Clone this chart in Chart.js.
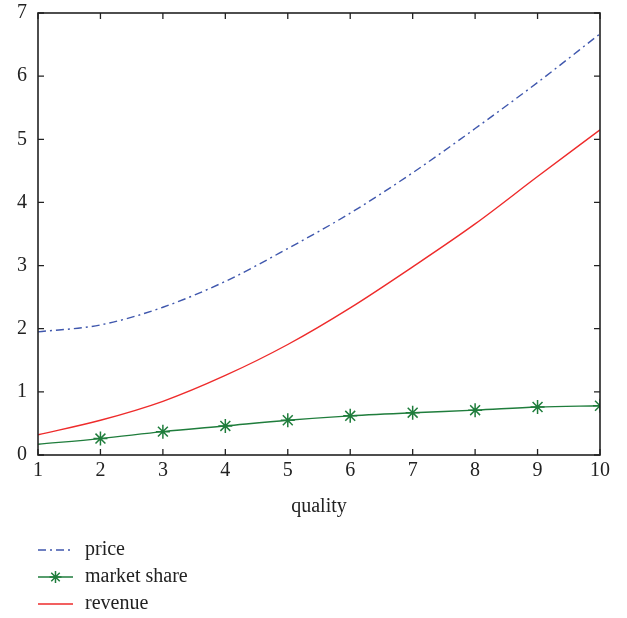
<!DOCTYPE html>
<html>
<head>
<meta charset="utf-8">
<script src="https://cdn.jsdelivr.net/npm/chart.js@4/dist/chart.umd.min.js"></script>
<style>
  html, body { margin: 0; padding: 0; background: #fff; }
  #wrap { width: 627px; height: 618px; }
</style>
</head>
<body>
<div id="wrap"><canvas id="qualityChart" width="627" height="618"></canvas></div>
<script>
// quality levels and the three curves
const quality = [1, 2, 3, 4, 5, 6, 7, 8, 9, 10];
const price = [1.95, 2.06, 2.34, 2.75, 3.27, 3.83, 4.47, 5.17, 5.90, 6.67];
const marketShare = [0.17, 0.26, 0.37, 0.46, 0.55, 0.62, 0.67, 0.71, 0.76, 0.78];
const revenue = [0.32, 0.55, 0.85, 1.26, 1.75, 2.33, 2.98, 3.66, 4.41, 5.15];
const yTicks = [0, 1, 2, 3, 4, 5, 6, 7];

const serif = '"Liberation Serif", "DejaVu Serif", serif';
const axisColor = '#222';
const fontSize = 20;

// frame around the plot with ticks pointing inward on all four sides
const framePlugin = {
    id: 'frame',
    afterDraw(chart) {
        const ctx = chart.ctx;
        const a = chart.chartArea;
        const xs = chart.scales.x;
        const ys = chart.scales.y;
        const len = 6;
        ctx.save();
        ctx.strokeStyle = axisColor;
        ctx.lineWidth = 1.6;
        ctx.strokeRect(a.left, a.top, a.right - a.left, a.bottom - a.top);
        ctx.lineWidth = 1.3;
        ctx.beginPath();
        quality.forEach(q => {
            const px = xs.getPixelForValue(q);
            ctx.moveTo(px, a.bottom); ctx.lineTo(px, a.bottom - len);
            ctx.moveTo(px, a.top); ctx.lineTo(px, a.top + len);
        });
        yTicks.forEach(v => {
            const py = ys.getPixelForValue(v);
            ctx.moveTo(a.left, py); ctx.lineTo(a.left + len, py);
            ctx.moveTo(a.right, py); ctx.lineTo(a.right - len, py);
        });
        ctx.stroke();
        ctx.restore();
    }
};

// vertical legend under the axis title
const legendPlugin = {
    id: 'stackLegend',
    afterDraw(chart) {
        const ctx = chart.ctx;
        const x0 = 38, x1 = 73, tx = 85;
        const rows = [550, 577, 604];
        ctx.save();
        chart.data.datasets.forEach((ds, i) => {
            const y = rows[i];
            ctx.strokeStyle = ds.borderColor;
            ctx.lineWidth = ds.borderWidth;
            ctx.setLineDash(ds.borderDash || []);
            ctx.beginPath();
            ctx.moveTo(x0, y); ctx.lineTo(x1, y);
            ctx.stroke();
            ctx.setLineDash([]);
            if (ds.pointStyle === 'star') {
                const cx = (x0 + x1) / 2, r = 6;
                ctx.lineWidth = 1.5;
                ctx.beginPath();
                for (let k = 0; k < 4; k++) {
                    const ang = k * Math.PI / 4;
                    ctx.moveTo(cx - r * Math.sin(ang), y - r * Math.cos(ang));
                    ctx.lineTo(cx + r * Math.sin(ang), y + r * Math.cos(ang));
                }
                ctx.stroke();
            }
            ctx.fillStyle = axisColor;
            ctx.font = fontSize + 'px ' + serif;
            ctx.textBaseline = 'middle';
            ctx.fillText(ds.label, tx, y);
        });
        ctx.restore();
    }
};

const ctx = document.getElementById('qualityChart').getContext('2d');
new Chart(ctx, {
    type: 'line',
    data: {
        labels: quality,
        datasets: [{
            label: 'price',
            data: price,
            borderColor: '#3f57ad',
            borderWidth: 1.4,
            borderDash: [8, 4, 2, 4],
            pointRadius: 0,
            cubicInterpolationMode: 'monotone'
        },
        {
            label: 'market share',
            data: marketShare,
            borderColor: '#1f7d3c',
            backgroundColor: '#1f7d3c',
            borderWidth: 1.4,
            pointStyle: 'star',
            pointRadius: quality.map(q => q === 1 ? 0 : 7),
            pointBorderWidth: 1.5,
            cubicInterpolationMode: 'monotone'
        },
        {
            label: 'revenue',
            data: revenue,
            borderColor: '#ee2b2b',
            borderWidth: 1.4,
            pointRadius: 0,
            cubicInterpolationMode: 'monotone'
        }]
    },
    options: {
        responsive: false,
        animation: false,
        layout: { padding: { top: 13, right: 27, bottom: 99, left: 0 } },
        plugins: {
            legend: { display: false },
            tooltip: { enabled: false }
        },
        scales: {
            x: {
                type: 'linear',
                min: 1,
                max: 10,
                afterFit: s => { s.height = 64; s.paddingRight = 0; },
                afterBuildTicks: s => { s.ticks = quality.map(v => ({ value: v })); },
                grid: { display: false, drawTicks: false },
                border: { display: false },
                ticks: { color: axisColor, font: { family: serif, size: fontSize }, padding: 4 },
                title: {
                    display: true,
                    text: 'quality',
                    color: axisColor,
                    font: { family: serif, size: fontSize },
                    padding: { top: 10, bottom: 0 }
                }
            },
            y: {
                min: 0,
                max: 7,
                afterFit: s => { s.width = 38; s.paddingTop = 0; s.paddingBottom = 0; },
                afterBuildTicks: s => { s.ticks = yTicks.map(v => ({ value: v })); },
                grid: { display: false, drawTicks: false },
                border: { display: false },
                ticks: { color: axisColor, font: { family: serif, size: fontSize }, padding: 11 }
            }
        }
    },
    plugins: [framePlugin, legendPlugin]
});
</script>
</body>
</html>
